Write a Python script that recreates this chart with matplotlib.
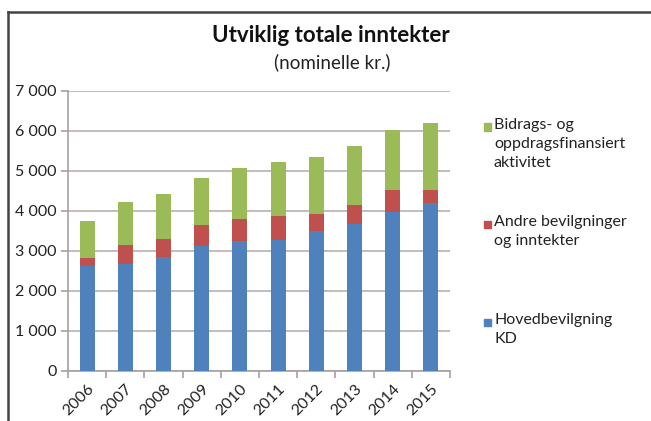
import numpy as np
import matplotlib
matplotlib.use("Agg")
import matplotlib.pyplot as plt
from matplotlib.lines import Line2D
from matplotlib.patches import Rectangle
from matplotlib.ticker import FuncFormatter

plt.rcParams['font.family'] = ['Lato', 'DejaVu Sans']

years = ['2006', '2007', '2008', '2009', '2010', '2011', '2012', '2013', '2014', '2015']
hovedbevilgning = [2625, 2675, 2860, 3135, 3250, 3285, 3500, 3675, 3965, 4190]
andre = [205, 485, 450, 515, 550, 600, 435, 475, 550, 325]
bidrag = [930, 1075, 1115, 1175, 1285, 1340, 1405, 1485, 1510, 1675]

series_labels = ['Hovedbevilgning\nKD', 'Andre bevilgninger\nog inntekter',
                 'Bidrags- og\noppdragsfinansiert\naktivitet']
colors = ['#4F81BD', '#C0504D', '#9BBB59']

W, H = 651, 421
fig = plt.figure(figsize=(W / 100, H / 100), dpi=100)
ax = fig.add_axes([68 / W, (H - 371) / H, (450 - 68) / W, (371 - 91) / H])

x = np.arange(len(years))
b1 = np.array(hovedbevilgning)
b2 = np.array(andre)
b3 = np.array(bidrag)
width = 0.39
ax.bar(x, b1, width, color=colors[0], zorder=3)
ax.bar(x, b2, width, bottom=b1, color=colors[1], zorder=3)
ax.bar(x, b3, width, bottom=b1 + b2, color=colors[2], zorder=3)

ax.set_xlim(-0.5, len(years) - 0.5)
ax.set_ylim(0, 7000)
ax.set_yticks(np.arange(0, 7001, 1000))
ax.yaxis.set_major_formatter(FuncFormatter(lambda v, p: f"{int(v):,}".replace(',', ' ')))
ax.grid(axis='y', color='#b8b0b0', linewidth=1.2, zorder=0)

for s in ['top', 'right']:
    ax.spines[s].set_visible(False)
for s in ['left', 'bottom']:
    ax.spines[s].set_color('#a8a0a0')
    ax.spines[s].set_linewidth(1.2)

ax.tick_params(axis='y', length=5, color='#a8a0a0', width=1.2, labelsize=11.5,
               labelcolor='#222222', pad=3)
ax.set_xticks(x)
ax.set_xticklabels(years, rotation=45, ha='right', rotation_mode='anchor',
                   fontsize=11.5, color='#222222')
ax.tick_params(axis='x', length=0, pad=8)
ax.set_xticks(np.arange(-0.5, len(years), 1.0), minor=True)
ax.tick_params(axis='x', which='minor', length=5, color='#a8a0a0', width=1.2)

fig.text(331 / W, 1 - 36 / H, 'Utviklig totale inntekter', ha='center', va='center',
         fontsize=16, fontweight='bold', color='#111111')
fig.text(332 / W, 1 - 62 / H, '(nominelle kr.)', ha='center', va='center',
         fontsize=13.5, color='#222222')

# legend, drawn by hand so the marker sits on the first text line
leg_y = [322, 224, 127]
for lab, col, yy in zip(series_labels, colors, leg_y):
    fig.patches.append(Rectangle((484 / W, 1 - (yy + 3.5) / H), 7 / W, 7 / H,
                                 transform=fig.transFigure, color=col))
    fig.text(494 / W, 1 - (yy - 9) / H, lab, ha='left', va='top', fontsize=11.5,
             color='#222222', linespacing=1.45)

# outer frame
fig.add_artist(Line2D([8 / W, 8 / W], [0, 1 - 12 / H], color='#444444', lw=1.8))
fig.add_artist(Line2D([8 / W, 1], [1 - 12 / H, 1 - 12 / H], color='#444444', lw=1.8))

fig.savefig('out.png', dpi=100)
